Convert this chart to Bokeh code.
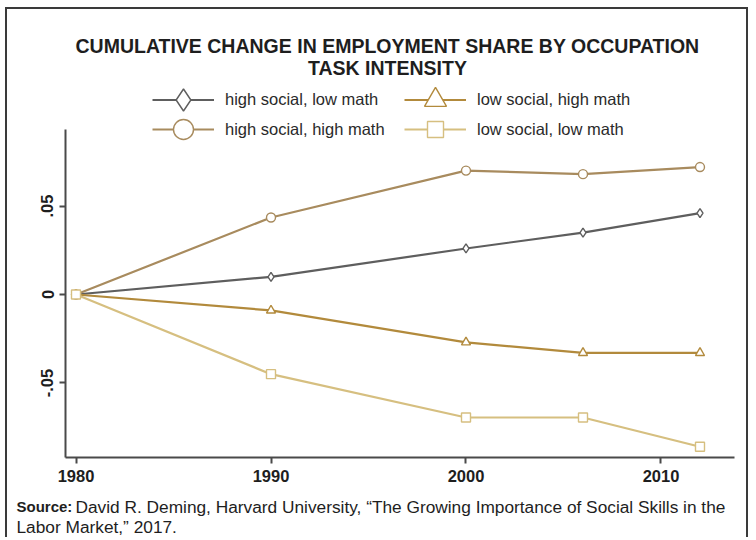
from bokeh.plotting import figure
from bokeh.models import (Range1d, FixedTicker, CustomJSTickFormatter, Label, Legend, LegendItem,
                          ColumnDataSource)
from bokeh.embed import file_html
from bokeh.resources import INLINE

years = [1980, 1990, 2000, 2006, 2012]
high_social_low_math = [0.0, 0.010, 0.026, 0.035, 0.046]
high_social_high_math = [0.0, 0.0435, 0.070, 0.068, 0.072]
low_social_high_math = [0.0, -0.009, -0.027, -0.033, -0.033]
low_social_low_math = [0.0, -0.045, -0.0695, -0.0695, -0.086]

series_names = ["high social, low math", "high social, high math",
                "low social, high math", "low social, low math"]
series_values = [high_social_low_math, high_social_high_math,
                 low_social_high_math, low_social_low_math]
colors = ["#5e5e5e", "#a88b5e", "#b28a3c", "#d6bf80"]
markers = ["diamond", "circle", "triangle", "square"]
x_ticks = [1980, 1990, 2000, 2010]
y_ticks = [-0.05, 0, 0.05]

title_lines = ["CUMULATIVE CHANGE IN EMPLOYMENT SHARE BY OCCUPATION", "TASK INTENSITY"]
source_bold = "Source:"
source_line1 = "David R. Deming, Harvard University, \u201cThe Growing Importance of Social Skills in the"
source_line2 = "Labor Market,\u201d 2017."

FONT = "Liberation Sans"
W, H = 743, 530

p = figure(width=W, height=H, output_backend="svg", toolbar_location=None,
           x_range=Range1d(1976.487, 2014.59), y_range=Range1d(-0.13842, 0.16102),
           min_border=0, min_border_left=0, min_border_right=0,
           min_border_top=0, min_border_bottom=0)
p.title = None
p.outline_line_color = None
p.grid.visible = False
p.background_fill_color = "white"
p.border_fill_color = "white"
p.styles = {"margin-left": "5px", "margin-top": "7px",
            "border-top": "2px solid #3a3a3a", "border-left": "2px solid #3a3a3a",
            "border-right": "2px solid #3a3a3a"}

for ax in (p.xaxis[0], p.yaxis[0]):
    ax.axis_line_color = "#4a4a4a"
    ax.axis_line_width = 2
    ax.major_tick_line_color = "#4a4a4a"
    ax.major_tick_line_width = 2
    ax.major_tick_in = 0
    ax.major_tick_out = 6
    ax.minor_tick_line_color = None
    ax.major_label_text_font = FONT
    ax.major_label_text_font_style = "bold"
    ax.major_label_text_font_size = "16.5px"
    ax.major_label_text_color = "#1e1e1e"
    ax.major_label_standoff = 6

p.xaxis.ticker = FixedTicker(ticks=x_ticks)
p.yaxis.ticker = FixedTicker(ticks=y_ticks)
p.xaxis.fixed_location = -0.0921
p.yaxis.fixed_location = 1979.4615
p.xaxis.bounds = (1979.4615, 2013.75)
p.yaxis.bounds = (-0.0921, 0.0932)
p.yaxis.major_label_orientation = "vertical"
p.yaxis.formatter = CustomJSTickFormatter(code="""
if (Math.abs(tick) < 1e-9) return "0";
const s = Math.abs(tick).toFixed(2).replace(/^0/, "");
return (tick < 0 ? "-" : "") + s;
""")

# legend layout: (column x, row center, glyph height -> marker size)
legend_pos = [(145, 90, 55), (145, 120, 50), (397, 90, 55), (397, 120, 40)]

for name, vals, c, m, (lx, cy, gh) in zip(series_names, series_values, colors, markers, legend_pos):
    src = ColumnDataSource(dict(x=years, y=vals))
    lr = p.line("x", "y", source=src, line_color=c, line_width=2.2)
    sr = p.scatter("x", "y", source=src, marker=m, size=9, fill_color="white",
                   line_color=c, line_width=1.4)
    lg = Legend(items=[LegendItem(label=name, renderers=[lr, sr])],
                location=(lx, H - (cy + gh / 2)), orientation="vertical",
                glyph_width=62, glyph_height=gh, label_standoff=11,
                padding=0, margin=0, spacing=0,
                label_text_font=FONT, label_text_font_size="16.5px",
                label_text_color="#2a2a2a",
                background_fill_alpha=0, border_line_color=None)
    p.add_layout(lg, "center")

for txt, yy in zip(title_lines, [494, 472]):
    p.add_layout(Label(x=380, y=yy, x_units="screen", y_units="screen", text=txt,
                       text_align="center", text_baseline="middle", text_font=FONT,
                       text_font_style="bold", text_font_size="19.5px", text_color="#1e1e1e"))

p.add_layout(Label(x=9, y=33, x_units="screen", y_units="screen", text=source_bold,
                   text_baseline="middle", text_font=FONT, text_font_style="bold",
                   text_font_size="15px", text_color="#1e1e1e"))
p.add_layout(Label(x=68, y=33, x_units="screen", y_units="screen", text=source_line1,
                   text_baseline="middle", text_font=FONT,
                   text_font_size="17.3px", text_color="#1e1e1e"))
p.add_layout(Label(x=9, y=13, x_units="screen", y_units="screen", text=source_line2,
                   text_baseline="middle", text_font=FONT,
                   text_font_size="17.3px", text_color="#1e1e1e"))

open("out.html", "w").write(file_html(p, INLINE))
